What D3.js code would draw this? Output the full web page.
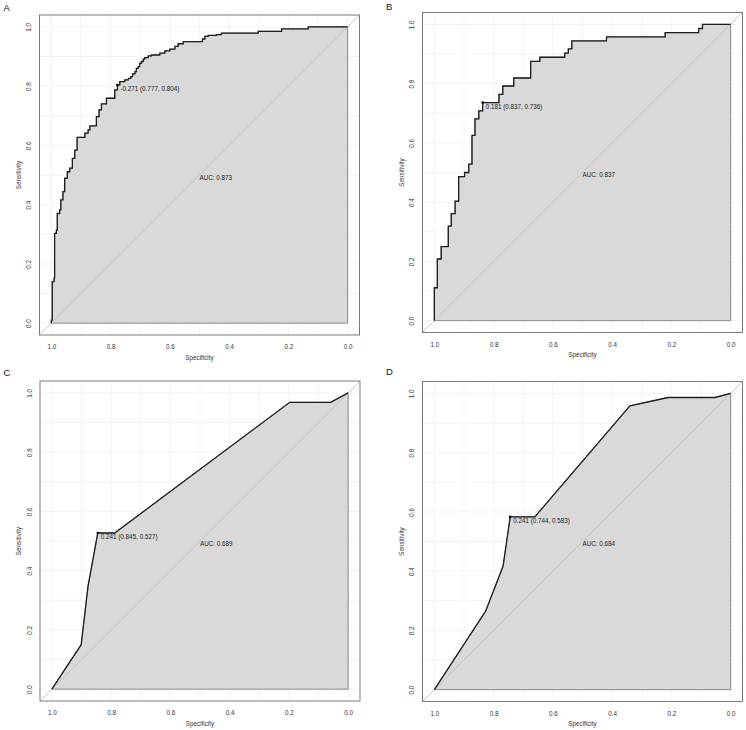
<!DOCTYPE html>
<html>
<head>
<meta charset="utf-8">
<script src="https://cdn.jsdelivr.net/npm/d3@7"></script>
<style>
  body { margin: 0; background: #fff; }
  text { font-family: "Liberation Sans", Arial, sans-serif; }
</style>
</head>
<body>
<svg id="chart" width="746" height="730"></svg>
<script>
// ROC curves, values (specificity, sensitivity)
const tickValues = [0, 0.2, 0.4, 0.6, 0.8, 1.0];
const gridValues = [0, 0.1, 0.2, 0.3, 0.4, 0.5, 0.6, 0.7, 0.8, 0.9, 1.0];

const panelLetters = ['A', 'B', 'C', 'D'];
const aucLabels = ['AUC: 0.873', 'AUC: 0.837', 'AUC: 0.689', 'AUC: 0.684'];
const thrLabels = ['-0.271 (0.777, 0.804)', '0.181 (0.837, 0.736)', '0.241 (0.845, 0.527)', '0.241 (0.744, 0.583)'];
const thrSpec = [0.777, 0.837, 0.845, 0.744];
const thrSens = [0.804, 0.736, 0.527, 0.583];

// A and B are step curves (vertical first, then horizontal)
const specA = [1.000, 0.997, 0.991, 0.989, 0.983, 0.980, 0.972, 0.968, 0.961, 0.955, 0.946, 0.938,
  0.929, 0.921, 0.913, 0.887, 0.876, 0.870, 0.848, 0.839, 0.831, 0.814, 0.786, 0.777, 0.769,
  0.752, 0.740, 0.732, 0.726, 0.718, 0.713, 0.707, 0.702, 0.696, 0.690, 0.685, 0.673, 0.662,
  0.634, 0.617, 0.600, 0.583, 0.572, 0.555, 0.490, 0.482, 0.471, 0.443, 0.426, 0.302, 0.223,
  0.133, 0.000];
const sensA = [0.000, 0.010, 0.140, 0.151, 0.303, 0.314, 0.370, 0.382, 0.416, 0.444, 0.489, 0.511,
  0.523, 0.556, 0.584, 0.627, 0.641, 0.652, 0.666, 0.697, 0.720, 0.740, 0.759, 0.787, 0.804,
  0.815, 0.821, 0.826, 0.832, 0.841, 0.849, 0.860, 0.866, 0.877, 0.883, 0.891, 0.896, 0.902,
  0.905, 0.911, 0.919, 0.925, 0.934, 0.943, 0.950, 0.959, 0.968, 0.971, 0.974, 0.979, 0.985,
  0.993, 1.000];

const specB = [1.000, 0.990, 0.977, 0.953, 0.943, 0.930, 0.918, 0.898, 0.884, 0.873, 0.863, 0.850,
  0.837, 0.782, 0.769, 0.732, 0.675, 0.644, 0.560, 0.548, 0.536, 0.419, 0.221, 0.108, 0.095, 0.000];
const sensB = [0.000, 0.111, 0.208, 0.250, 0.319, 0.361, 0.403, 0.486, 0.500, 0.528, 0.625, 0.681,
  0.708, 0.736, 0.764, 0.792, 0.819, 0.875, 0.889, 0.903, 0.917, 0.944, 0.958, 0.972, 0.986, 1.000];

// C and D are plain polylines
const specC = [1.000, 0.901, 0.878, 0.845, 0.788, 0.197, 0.059, 0.000];
const sensC = [0.000, 0.150, 0.347, 0.527, 0.527, 0.968, 0.968, 1.000];

const specD = [1.000, 0.827, 0.768, 0.744, 0.661, 0.340, 0.211, 0.053, 0.000];
const sensD = [0.000, 0.265, 0.417, 0.583, 0.583, 0.958, 0.986, 0.986, 1.000];

const allSpec = [specA, specB, specC, specD];
const allSens = [sensA, sensB, sensC, sensD];
const curves = [d3.curveStepBefore, d3.curveStepBefore, d3.curveLinear, d3.curveLinear];

// layout: plot box corner and panel letter position
const boxes = [[39.5, 15], [422.5, 12.5], [40, 381], [422.5, 381.5]];
const letterPos = [[3.5, 10.5], [386, 10], [3.5, 375.5], [386, 374.5]];
const boxSize = 320;

const svg = d3.select('#chart');

panelLetters.forEach((letter, i) => {
  const [bx, by] = boxes[i];
  const x = d3.scaleLinear().domain([1.04, -0.04]).range([bx, bx + boxSize]);
  const y = d3.scaleLinear().domain([-0.04, 1.04]).range([by + boxSize, by]);
  const pts = allSpec[i].map((s, k) => [s, allSens[i][k]]);
  const g = svg.append('g');

  // grid
  g.selectAll('line.gx').data(gridValues).join('line')
    .attr('x1', d => x(d)).attr('x2', d => x(d))
    .attr('y1', by).attr('y2', by + boxSize)
    .attr('stroke', '#f3f3f3').attr('stroke-width', 1);
  g.selectAll('line.gy').data(gridValues).join('line')
    .attr('y1', d => y(d)).attr('y2', d => y(d))
    .attr('x1', bx).attr('x2', bx + boxSize)
    .attr('stroke', '#f3f3f3').attr('stroke-width', 1);

  // auc polygon
  const area = d3.area()
    .x(d => x(d[0])).y0(y(0)).y1(d => y(d[1]))
    .curve(curves[i]);
  g.append('path').datum(pts)
    .attr('d', area)
    .attr('fill', '#d9d9d9')
    .attr('stroke', '#8a8a8a')
    .attr('stroke-width', 1);

  // identity line
  g.append('line')
    .attr('x1', x(1.04)).attr('y1', y(-0.04))
    .attr('x2', x(-0.04)).attr('y2', y(1.04))
    .attr('stroke', '#c4c4c4').attr('stroke-width', 1);

  // roc curve
  const line = d3.line().x(d => x(d[0])).y(d => y(d[1])).curve(curves[i]);
  g.append('path').datum(pts)
    .attr('d', line)
    .attr('fill', 'none')
    .attr('stroke', '#1e1e1e')
    .attr('stroke-width', 1.3);

  // box
  g.append('rect')
    .attr('x', bx).attr('y', by)
    .attr('width', boxSize).attr('height', boxSize)
    .attr('fill', 'none').attr('stroke', '#7a7a7a').attr('stroke-width', 1);

  // axes
  const xAxis = g.append('g')
    .attr('transform', `translate(0,${by + boxSize})`)
    .call(d3.axisBottom(x).tickValues(tickValues).tickSize(0).tickPadding(9.6).tickFormat(d3.format('.1f')));
  xAxis.select('.domain').remove();
  xAxis.selectAll('text').attr('font-size', 6.3).attr('fill', '#333').attr('font-family', '"Liberation Sans", Arial, sans-serif');

  const yAxis = g.append('g')
    .attr('transform', `translate(${bx},0)`)
    .call(d3.axisLeft(y).tickValues(tickValues).tickSize(0).tickFormat(d3.format('.1f')));
  yAxis.select('.domain').remove();
  yAxis.selectAll('text')
    .attr('x', null).attr('dy', null)
    .attr('y', 2.2)
    .attr('text-anchor', 'middle')
    .attr('transform', 'translate(-10.5,0) rotate(-90)')
    .attr('font-size', 6.3).attr('fill', '#333')
    .attr('font-family', '"Liberation Sans", Arial, sans-serif');

  // axis titles
  g.append('text')
    .attr('x', bx + boxSize / 2).attr('y', by + boxSize + 24.7)
    .attr('text-anchor', 'middle').attr('font-size', 6.3).attr('fill', '#333')
    .text('Specificity');
  g.append('text')
    .attr('transform', `translate(${bx - 21},${by + boxSize / 2}) rotate(-90)`)
    .attr('y', 2.2)
    .attr('text-anchor', 'middle').attr('font-size', 6.3).attr('fill', '#333')
    .text('Sensitivity');

  // threshold point and label
  g.append('circle')
    .attr('cx', x(thrSpec[i])).attr('cy', y(thrSens[i]))
    .attr('r', 1.3).attr('fill', '#000');
  g.append('text')
    .attr('x', x(thrSpec[i]) + 3).attr('y', y(thrSens[i]) + 6)
    .attr('font-size', 6.3).attr('fill', '#222')
    .text(thrLabels[i]);

  // auc label
  g.append('text')
    .attr('x', x(0.5)).attr('y', y(0.5) + 4.8)
    .attr('font-size', 6.3).attr('fill', '#222')
    .text(aucLabels[i]);

  // panel letter
  g.append('text')
    .attr('x', letterPos[i][0]).attr('y', letterPos[i][1])
    .attr('font-family', '"Liberation Serif", "Times New Roman", serif')
    .attr('font-size', 9.5).attr('fill', '#111')
    .text(letter);
});
</script>
</body>
</html>
